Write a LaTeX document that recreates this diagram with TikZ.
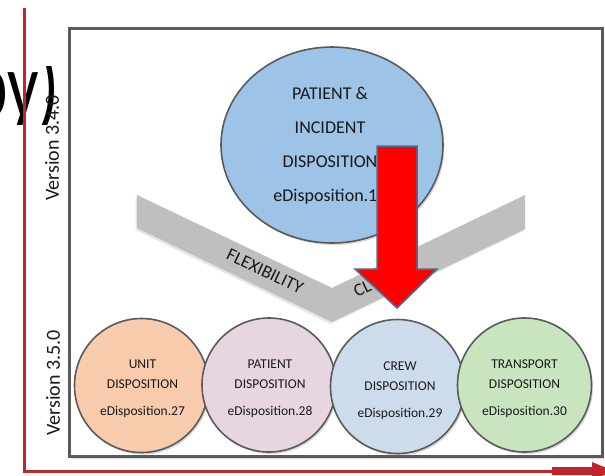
\documentclass[tikz,border=0pt]{standalone}
\usepackage{fontspec}
\usepackage{graphicx}
\setmainfont{Carlito}
\usetikzlibrary{shadows,shapes.geometric}
\definecolor{axisred}{HTML}{BE262C}
\definecolor{framegray}{HTML}{5A5A5A}
\definecolor{chevgray}{HTML}{BFBFBF}
\definecolor{bigblue}{HTML}{9DC3E6}
\definecolor{peach}{HTML}{F8CBAD}
\definecolor{mauve}{HTML}{E7D6E2}
\definecolor{paleblue}{HTML}{CCDCEA}
\definecolor{palegreen}{HTML}{C8E5C0}
\definecolor{arrowred}{HTML}{FF0000}
\definecolor{arrowedge}{HTML}{41719C}
\begin{document}
\begin{tikzpicture}[x=1pt,y=-1pt,
  softshadow/.style={drop shadow={opacity=0.3, shadow xshift=1.5pt, shadow yshift=-2pt}},
  bubble/.style={circle, draw=framegray, line width=1.6pt, minimum size=134pt, inner sep=0pt, softshadow},
  smalltext/.style={font=\fontsize{13.5}{20}\selectfont, align=center, text=black!90, inner sep=0pt},
  bigtext/.style={font=\fontsize{18}{34}\selectfont, align=center, text=black!90, inner sep=0pt},
  versiontext/.style={font=\fontsize{20}{24}\selectfont, rotate=90, text=black!90, inner sep=0pt},
  chevtext/.style={font=\fontsize{18}{22}\selectfont, text=black!90, inner sep=0pt}]
\useasboundingbox (0,0) rectangle (605,475);
% cut-off title
\begin{scope}
  \clip (0,66) rectangle (70,124);
  \node[anchor=base east, font=\fontsize{94}{100}\selectfont, inner sep=0pt] (title) at (60,117) {\scalebox{0.74}[1]{py)}};
\end{scope}
% axes
\coordinate (axtop) at (24,8);
\coordinate (axcorner) at (24,471);
\coordinate (axend) at (552,471);
\draw[axisred, line width=3pt] (axtop) -- (axcorner) -- (axend);
\fill[axisred] (552,467) -- (592,467) -- (592,462) -- (614,471) -- (592,480) -- (592,475) -- (552,475) -- cycle;
% frame
\draw[framegray, line width=3pt, fill=white, softshadow] (69.5,28.5) rectangle (602,456.5);
% chevron
\fill[chevgray, drop shadow={opacity=0.2, shadow xshift=-1.5pt, shadow yshift=-2pt}] (137,195) -- (332,288) -- (525,195) -- (525,229) -- (332,322) -- (137,228) -- cycle;
\node[chevtext, rotate=-25.5] (flex) at (265,271) {FLEXIBILITY};
\node[chevtext, rotate=25.5, anchor=base west] (clar) at (357,298) {CL};
% version labels
\node[versiontext] (v340) at (52,148) {Version 3.4.0};
\node[versiontext] (v350) at (53,383) {Version 3.5.0};
% big circle
\node[ellipse, draw=framegray, line width=1.6pt, fill=bigblue, minimum width=222pt, minimum height=196pt, softshadow] (big) at (332,145) {};
\node[bigtext] (bigT) at (330,146) {PATIENT \&\\INCIDENT\\DISPOSITION\\eDisposition.12};
% small circles
\node[bubble, fill=peach] (unit) at (141.5,385.5) {};
\node[bubble, fill=mauve] (patient) at (269,385) {};
\node[bubble, fill=paleblue] (crew) at (397.5,386.5) {};
\node[bubble, fill=palegreen] (transport) at (524.5,385) {};
\node[smalltext] (unitT) at (142.5,389) {UNIT\\DISPOSITION\\[7pt]eDisposition.27};
\node[smalltext] (patientT) at (270,389) {PATIENT\\DISPOSITION\\[7pt]eDisposition.28};
\node[smalltext] (crewT) at (400,391) {CREW\\DISPOSITION\\[7pt]eDisposition.29};
\node[smalltext] (transportT) at (524.5,389) {TRANSPORT\\DISPOSITION\\[7pt]eDisposition.30};
% red arrow
\draw[fill=arrowred, draw=arrowedge, line width=1.5pt, line join=miter] (377,146) -- (417,146) -- (417,269) -- (437,269) -- (397,308) -- (355,269) -- (377,269) -- cycle;
\end{tikzpicture}
\end{document}
